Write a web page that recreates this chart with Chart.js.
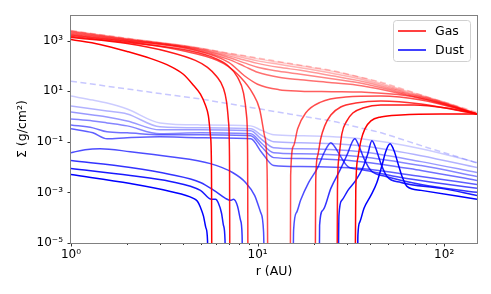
<!DOCTYPE html>
<html>
<head>
<meta charset="utf-8">
<script src="https://cdn.jsdelivr.net/npm/chart.js@4.4.0/dist/chart.umd.min.js"></script>
<style>
  html, body { margin: 0; padding: 0; background: #fff; }
</style>
</head>
<body>
<canvas id="graph" width="491" height="294"></canvas>
<script>
/* surface density of gas and dust vs radius, log-log */

// initial profiles (dashed)
const rInit = [1, 2, 3, 5, 7, 10, 15, 20, 25, 35, 46, 62, 85, 110, 150];
const gasInit = [2466, 1220, 805, 481, 318, 204, 123, 86.5, 65.4, 36.4, 22.5, 11.2, 5.31, 3.0, 1.44];
const dustInit = [24.7, 12.2, 8.05, 4.81, 3.18, 2.04, 1.23, 0.865, 0.654, 0.364, 0.225, 0.112, 0.053, 0.030, 0.0144];

// gas, snapshots without a gap (shared radii)
const rGas = [1, 2, 4.4, 7, 8.5, 10, 13, 17, 25, 36, 62, 96, 150];
const gas1 = [2420, 1200, 582, 309, 238, 188, 137, 100, 60.8, 33.8, 10.5, 4.05, 1.31];
const gas2 = [2340, 1155, 556, 282, 204, 157, 114.5, 83.5, 50.8, 29.6, 9.56, 3.87, 1.31];
const gas3 = [2210, 1115, 531, 247, 170, 125, 87.3, 66.6, 40.5, 24.7, 8.73, 3.70, 1.25];
const gas4 = [2060, 1065, 504, 215, 131, 87.3, 60.8, 46.4, 30.9, 20.6, 7.98, 3.54, 1.25];
const gas5 = [1880, 1018, 477, 180, 95.5, 55.6, 35.4, 28.2, 21.5, 16.4, 7.29, 3.38, 1.25];
const gas6 = [1720, 956, 444, 137, 40.5, 18.8, 11.45, 10, 9.56, 9.14, 6.66, 3.24, 1.25];

// gas, snapshots with an open gap: [r, sigma], 1e-8 = empty
const gas7 = [[1, 1570], [2, 914], [4.36, 338], [6.56, 125], [8.1, 35.4], [9.4, 8.36], [10.25, 1.97], [10.9, 0.172], [11.25, 0.0073], [11.4, 1e-8],
  [14.95, 1e-8], [15.04, 0.00464], [15.6, 0.0697], [16.4, 0.324], [18.1, 1.37], [21.8, 3.7], [29.7, 5.82], [45.8, 6.37], [75.2, 4.44], [150, 1.25]];
const gas8 = [[1, 1435], [2, 835], [4.0, 444], [5.59, 236], [6.9, 105], [7.81, 35.4], [8.41, 8.36], [8.73, 1.05], [8.84, 0.0443], [8.9, 1e-8],
  [20.3, 1e-8], [20.5, 0.00296], [21.0, 0.0282], [21.8, 0.131], [22.9, 0.424], [24.7, 1.146], [27.9, 2.36], [33.6, 3.38], [45.8, 4.05], [75.2, 3.09], [150, 1.25]];
const gas9 = [[1, 1310], [2, 763], [3.28, 370], [4.64, 164], [5.39, 87.3], [6.02, 38.7], [6.56, 13.1], [6.81, 4.05], [6.98, 0.667], [7.07, 0.0282], [7.12, 1e-8],
  [26.6, 1e-8], [26.8, 0.0012], [27.3, 0.0236], [28.3, 0.206], [30.1, 0.667], [32.4, 1.37], [36.7, 2.15], [45.8, 2.82], [69, 2.82], [102.5, 2.15], [150, 1.25]];
const gas10 = [[1, 1094], [1.43, 697], [2, 370], [2.66, 197], [3.41, 95.5], [4.0, 46.4], [4.53, 17.2], [4.94, 7.63], [5.25, 2.82], [5.45, 1.05], [5.59, 0.172], [5.66, 0.0114], [5.7, 1e-8],
  [33.2, 1e-8], [33.6, 0.0012], [34.5, 0.0236], [35.8, 0.109], [37.6, 0.324], [40.5, 0.667], [45.8, 0.955], [58.7, 1.146], [96.3, 1.25], [150, 1.25]];

// dust, snapshots without a gap (shared radii)
const rDust = [1, 1.31, 1.56, 2.0, 3.0, 4.94, 9.2, 10.5, 12.2, 17.0, 35.8, 75.2, 150];
const dust1 = [6.37, 4.44, 3.38, 1.97, 0.556, 0.464, 0.424, 0.282, 0.188, 0.172, 0.131, 0.0531, 0.0150];
const dust2 = [2.58, 1.97, 1.64, 1.25, 0.388, 0.354, 0.324, 0.18, 0.100, 0.0914, 0.0697, 0.0282, 0.00955];
const dust3 = [1.50, 1.146, 0.956, 0.667, 0.296, 0.296, 0.270, 0.125, 0.0582, 0.0531, 0.0405, 0.0164, 0.00609];
const dust4 = [0.798, 0.667, 0.556, 0.424, 0.206, 0.225, 0.206, 0.0873, 0.0370, 0.0338, 0.0258, 0.0115, 0.00424];
const dust5 = [0.464, 0.354, 0.247, 0.225, 0.188, 0.188, 0.172, 0.0637, 0.0236, 0.0216, 0.0164, 0.00729, 0.00296];
const dust6 = [0.324, 0.225, 0.131, 0.144, 0.157, 0.144, 0.131, 0.0388, 0.0115, 0.0105, 0.00873, 0.00424, 0.00206];

// dust, snapshots with an open gap
const dust7 = [[1, 0.037], [1.19, 0.0485], [1.43, 0.0531], [2.08, 0.0405], [3.41, 0.0258], [5.59, 0.0137], [7.34, 0.00609], [8.62, 0.00247], [9.64, 0.00076], [10.38, 1.64e-4], [10.77, 2.7e-5], [10.97, 1e-8],
  [15.4, 1e-8], [15.6, 3.24e-5], [16.2, 1.64e-4], [17.0, 4.85e-4], [18.8, 0.00247], [21.0, 0.00955], [22.6, 0.0338], [23.8, 0.0697], [24.7, 0.0914], [25.9, 0.0637], [27.3, 0.0338], [30.5, 0.0105], [35.8, 0.00798], [58.7, 0.00387], [96.3, 0.00225], [150, 0.00144]];
const dust8 = [[1, 0.018], [2.08, 0.00955], [3.41, 0.00508], [4.94, 0.00247], [5.95, 0.00109], [6.73, 5.82e-4], [7.16, 4.85e-4], [7.43, 5.3e-4], [7.81, 2.82e-4], [8.1, 8.0e-5], [8.26, 2.06e-5], [8.36, 1e-8],
  [21.3, 1e-8], [21.5, 5.08e-5], [22.4, 1.97e-4], [24.7, 0.00144], [27.9, 0.00873], [30.5, 0.037], [32.0, 0.0914], [33.2, 0.131], [34.9, 0.0697], [37.2, 0.0216], [40.5, 0.00729], [48.8, 0.00424], [75.2, 0.00206], [150, 0.001]];
const dust9 = [[1, 0.00873], [2.08, 0.00464], [3.41, 0.0027], [4.94, 0.0012], [5.66, 5.3e-4], [5.95, 5.3e-4], [6.17, 3.7e-4], [6.41, 1.5e-4], [6.56, 5.08e-5], [6.69, 1.31e-5], [6.77, 1e-8],
  [26.9, 1e-8], [27.3, 1.25e-4], [28.3, 4.85e-4], [30.5, 0.0012], [33.6, 0.00296], [36.7, 0.00955], [39.0, 0.0338], [41.0, 0.109], [43.1, 0.0531], [45.8, 0.0137], [49.4, 0.00424], [58.7, 0.00247], [96.3, 0.00144], [150, 0.00076]];
const dust10 = [[1, 0.00508], [2.08, 0.00225], [3.41, 0.00109], [4.53, 5.82e-4], [4.76, 4.44e-4], [4.94, 2.58e-4], [5.13, 1.15e-4], [5.29, 3.87e-5], [5.39, 1.31e-5], [5.45, 1e-8],
  [34.1, 1e-8], [34.5, 2.06e-5], [35.3, 6.67e-5], [37.2, 2.36e-4], [40.5, 7.6e-4], [43.6, 0.00247], [46.4, 0.0115], [48.8, 0.0443], [51.3, 0.0835], [53.9, 0.0443], [56.6, 0.0137], [59.5, 0.00424], [63.2, 0.00172], [75.2, 0.0012], [150, 5.3e-4]];

// axis ticks
const xTicks = [1, 2, 3, 4, 5, 6, 7, 8, 9, 10, 20, 30, 40, 50, 60, 70, 80, 90, 100];
const xMajor = [1, 10, 100];
const xLabels = ['10⁰', '10¹', '10²'];
const yTicks = [1e-5, 1e-3, 1e-1, 1e1, 1e3];
const yLabels = ['10⁻⁵', '10⁻³', '10⁻¹', '10¹', '10³'];

const FONT = 'DejaVu Sans';
const alphas = [0.2, 0.3, 0.4, 0.48, 0.56, 0.63, 0.7, 0.8, 0.9, 1.0];

function onGrid(rs, vals) {
  return rs.map((r, i) => ({x: r, y: vals[i]}));
}
function pairs(list) {
  return list.map(p => ({x: p[0], y: p[1]}));
}

const gasData = [onGrid(rGas, gas1), onGrid(rGas, gas2), onGrid(rGas, gas3), onGrid(rGas, gas4), onGrid(rGas, gas5), onGrid(rGas, gas6),
  pairs(gas7), pairs(gas8), pairs(gas9), pairs(gas10)];
const dustData = [onGrid(rDust, dust1), onGrid(rDust, dust2), onGrid(rDust, dust3), onGrid(rDust, dust4), onGrid(rDust, dust5), onGrid(rDust, dust6),
  pairs(dust7), pairs(dust8), pairs(dust9), pairs(dust10)];

const datasets = [];
datasets.push({data: onGrid(rInit, gasInit), borderColor: 'rgba(255,0,0,0.25)', borderDash: [6, 3.5], order: 200});
datasets.push({data: onGrid(rInit, dustInit), borderColor: 'rgba(0,0,255,0.22)', borderDash: [6, 3.5], order: 199});
gasData.forEach((d, i) => datasets.push({data: d, borderColor: `rgba(255,0,0,${alphas[i]})`, order: 100 - i}));
dustData.forEach((d, i) => datasets.push({data: d, borderColor: `rgba(0,0,255,${alphas[i]})`, order: 150 - i}));
datasets.forEach(d => { d.borderWidth = 1.5; d.pointRadius = 0; d.cubicInterpolationMode = 'monotone'; });

// frame, tick marks and the legend box
const decorations = {
  id: 'decorations',
  afterDraw(chart) {
    const {ctx, chartArea: a, scales: {x, y}} = chart;
    ctx.save();
    ctx.strokeStyle = '#333';
    ctx.lineWidth = 1;
    xTicks.forEach(v => {
      const px = Math.round(x.getPixelForValue(v)) + 0.5;
      const len = xMajor.includes(v) ? 3.5 : 2;
      ctx.beginPath(); ctx.moveTo(px, a.bottom); ctx.lineTo(px, a.bottom + len); ctx.stroke();
    });
    yTicks.forEach(v => {
      const py = Math.round(y.getPixelForValue(v)) + 0.5;
      ctx.beginPath(); ctx.moveTo(a.left, py); ctx.lineTo(a.left - 3.5, py); ctx.stroke();
    });
    ctx.strokeStyle = '#808080';
    ctx.strokeRect(Math.round(a.left) - 0.5, Math.round(a.top) + 0.5, Math.round(a.right - a.left) + 1, Math.round(a.bottom - a.top));

    // legend
    const bx = 393.5, by = 20.5, bw = 77, bh = 41;
    ctx.beginPath();
    ctx.roundRect(bx, by, bw, bh, 3);
    ctx.fillStyle = 'rgba(255,255,255,0.8)';
    ctx.fill();
    ctx.strokeStyle = '#d0d0d0';
    ctx.stroke();
    ctx.lineWidth = 1.5;
    [['Gas', 'rgb(255,0,0)', 31], ['Dust', 'rgb(0,0,255)', 50]].forEach(([t, c, ly]) => {
      ctx.strokeStyle = c;
      ctx.beginPath(); ctx.moveTo(398, ly); ctx.lineTo(426, ly); ctx.stroke();
      ctx.fillStyle = '#000';
      ctx.font = `12.5px "${FONT}"`;
      ctx.textBaseline = 'middle';
      ctx.fillText(t, 435, ly + 0.5);
    });
    ctx.restore();
  }
};

new Chart(document.getElementById('graph'), {
  type: 'line',
  data: {datasets: datasets},
  options: {
    responsive: false,
    animation: false,
    devicePixelRatio: 1,
    layout: {padding: {left: 0, right: 14, top: 13, bottom: 0}},
    plugins: {legend: {display: false}, tooltip: {enabled: false}},
    scales: {
      x: {
        type: 'logarithmic', min: 1, max: 150,
        grid: {display: false, drawTicks: false},
        border: {display: false},
        afterBuildTicks: s => { s.ticks = xTicks.map(v => ({value: v})); },
        afterFit: s => { s.height = 51; },
        ticks: {
          autoSkip: false, maxRotation: 0, padding: 5, color: '#000',
          font: {family: FONT, size: 12},
          callback: v => { const k = xMajor.indexOf(v); return k >= 0 ? xLabels[k] : ''; }
        },
        title: {display: true, text: 'r (AU)', color: '#000', font: {family: FONT, size: 12.5}, padding: {top: 0, bottom: 15}}
      },
      y: {
        type: 'logarithmic', min: 1e-5, max: 1e4,
        grid: {display: false, drawTicks: false},
        border: {display: false},
        afterBuildTicks: s => { s.ticks = yTicks.map(v => ({value: v})); },
        afterFit: s => { s.width = 71; },
        ticks: {
          autoSkip: false, padding: 8, color: '#000',
          font: {family: FONT, size: 12},
          callback: v => { const k = Math.round(Math.log10(v)); return yLabels[(k + 5) / 2]; }
        },
        title: {display: true, text: 'Σ (g/cm²)', color: '#000', font: {family: FONT, size: 12.5}, padding: {top: 15, bottom: 0}}
      }
    }
  },
  plugins: [decorations]
});
</script>
</body>
</html>
